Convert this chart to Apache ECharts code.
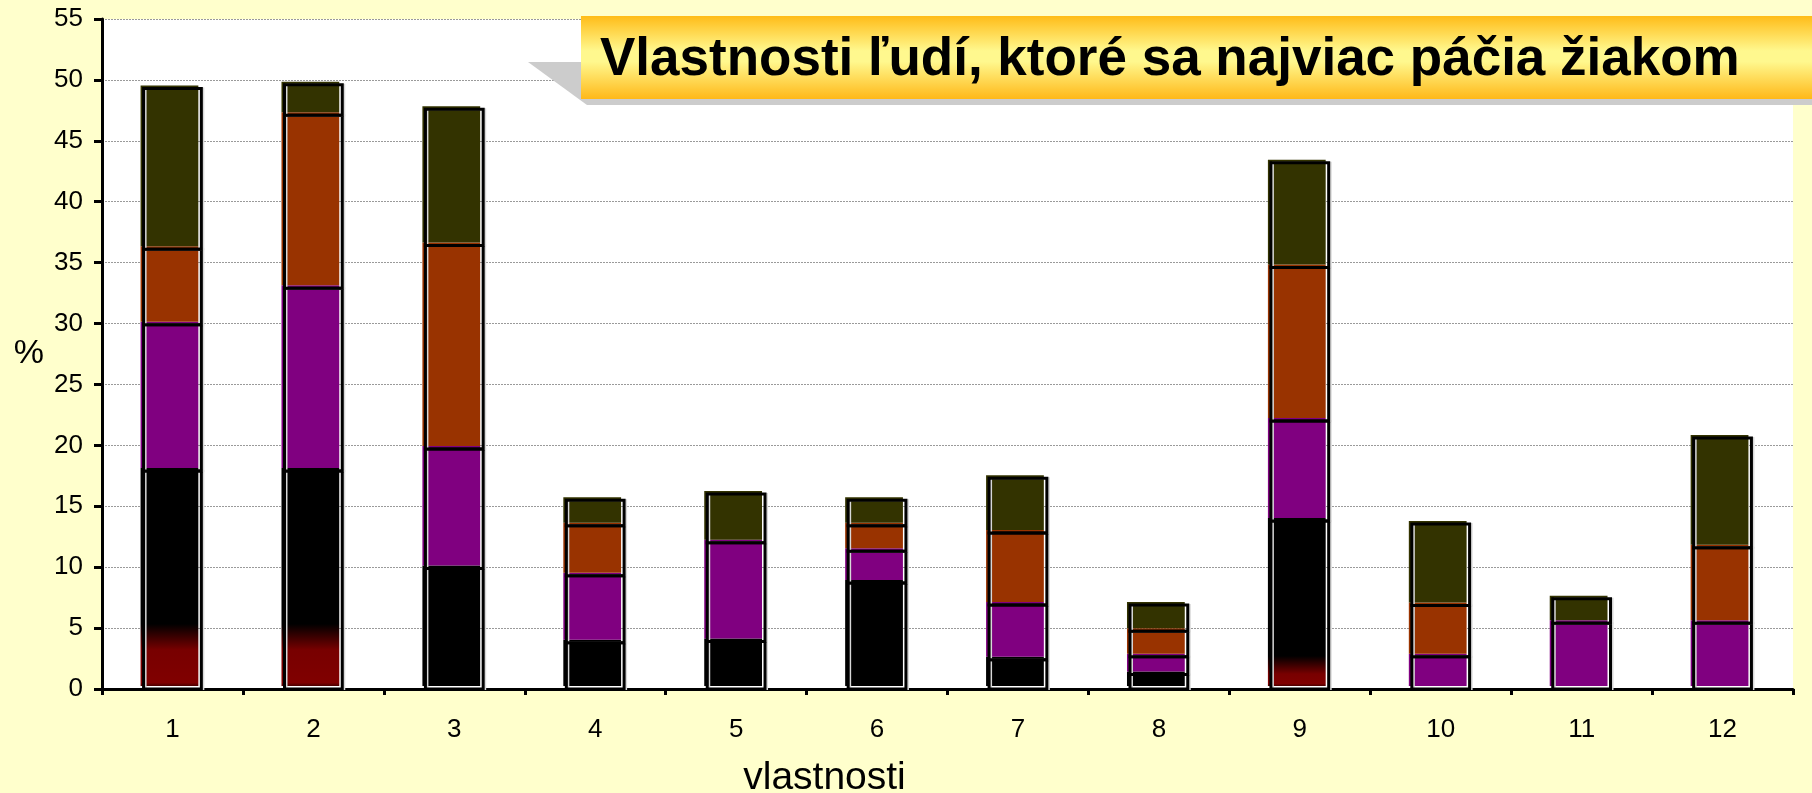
<!DOCTYPE html>
<html>
<head>
<meta charset="utf-8">
<title>Vlastnosti ľudí</title>
<script src="https://cdn.jsdelivr.net/npm/echarts@6/dist/echarts.min.js"></script>
<style>
  html, body { margin: 0; padding: 0; background: #FFFFCC; }
  #chart { width: 1812px; height: 793px; }
</style>
</head>
<body>
<div id="chart"></div>
<script>
// kategórie (vlastnosti 1 - 12)
const categories = ['1', '2', '3', '4', '5', '6', '7', '8', '9', '10', '11', '12'];

// hodnoty v % (zdola nahor)
const blackValues  = [17.9, 17.9, 9.9, 3.8, 3.9, 8.7, 2.4, 1.2, 13.8, 0, 0, 0];
const purpleValues = [12.0, 15.0, 9.8, 5.5, 8.1, 2.6, 4.5, 1.45, 8.2, 2.65, 5.4, 5.4];
const orangeValues = [6.2, 14.2, 16.7, 4.1, 0, 2.1, 5.9, 2.1, 12.6, 4.2, 0, 6.2];
const oliveValues  = [13.2, 2.5, 11.2, 2.1, 4.0, 2.1, 4.5, 2.15, 8.6, 6.7, 2.0, 9.0];

const yTicks = { min: 0, max: 55, step: 5 };

const segments = [
  { values: blackValues, color: '#000000' },
  { values: purpleValues, color: '#800080' },
  { values: orangeValues, color: '#993300' },
  { values: oliveValues, color: '#333300' }
];

// stĺpce s červeným prechodom pri spodku (px od spodku: [čierna končí, červená začína])
const fade = { 0: [62, 36], 1: [62, 36], 8: [30, 12] };

const FONT = "'Liberation Sans', Arial, sans-serif";

function fillFor(k, i, h) {
  const c = segments[k].color;
  if (k !== 0 || !fade[i] || h <= 0) return c;
  const [b, r] = fade[i];
  return new echarts.graphic.LinearGradient(0, 0, 0, 1, [
    { offset: 0, color: '#000000' },
    { offset: Math.max(0, 1 - b / h), color: '#000000' },
    { offset: Math.max(0, 1 - r / h), color: '#780000' },
    { offset: 0.985, color: '#800000' },
    { offset: 1, color: '#4a0000' }
  ]);
}

function renderItem(params, api) {
  const i = api.value(0);
  const w = api.size([1, 0])[0] * 0.41;
  const xc = api.coord([i, 0])[0];
  const fills = [];
  const outlines = [];
  let base = 0;
  segments.forEach((seg, k) => {
    const v = seg.values[i];
    if (!v) return;
    const top = api.coord([i, base + v])[1];
    const bottom = api.coord([i, base])[1];
    const h = bottom - top;
    fills.push({
      type: 'rect',
      shape: { x: xc - w / 2 - 3, y: top - 3, width: w, height: h },
      style: { fill: fillFor(k, i, h) }
    });
    outlines.push({
      type: 'rect',
      shape: { x: xc - w / 2 + 2, y: top, width: w, height: h },
      style: { fill: null, stroke: '#d8d8d8', lineWidth: 2 }
    });
    outlines.push({
      type: 'rect',
      shape: { x: xc - w / 2, y: top, width: w, height: h },
      style: { fill: null, stroke: '#000000', lineWidth: 3 }
    });
    base += v;
  });
  return { type: 'group', children: fills.concat(outlines) };
}

const chart = echarts.init(document.getElementById('chart'));

const option = {
  backgroundColor: '#FFFFCC',
  animation: false,
  grid: {
    left: 102, right: 19, top: 19, bottom: 104,
    containLabel: false,
    outerBoundsMode: 'none',
    show: true, backgroundColor: '#ffffff', borderWidth: 0
  },
  xAxis: {
    type: 'category',
    data: categories,
    name: 'vlastnosti',
    nameLocation: 'middle',
    nameGap: 70,
    nameTextStyle: { fontFamily: FONT, fontSize: 39, color: '#000', padding: [0, 246, 0, 0] },
    axisLine: { lineStyle: { color: '#000', width: 3 } },
    axisTick: { show: true, length: 6, lineStyle: { color: '#000', width: 3 } },
    axisLabel: { fontFamily: FONT, fontSize: 26, color: '#000', margin: 28 },
    splitLine: { show: false }
  },
  yAxis: {
    type: 'value',
    min: yTicks.min,
    max: yTicks.max,
    interval: yTicks.step,
    name: '%',
    nameLocation: 'middle',
    nameRotate: 0,
    nameGap: 58,
    nameTextStyle: { fontFamily: FONT, fontSize: 34, color: '#000' },
    axisLine: { show: true, lineStyle: { color: '#000', width: 3 } },
    axisTick: { show: true, length: 8, lineStyle: { color: '#000', width: 3 } },
    axisLabel: { fontFamily: FONT, fontSize: 26, color: '#000', margin: 19 },
    splitLine: { show: true, lineStyle: { color: '#9a9a9a', width: 1, type: [2, 1] } }
  },
  series: [{
    type: 'custom',
    renderItem: renderItem,
    data: categories.map((c, i) => [i]),
    encode: { x: 0 },
    z: 3
  }],
  graphic: [
    {
      type: 'polygon',
      z: 100,
      shape: { points: [[528, 62], [1812, 62], [1812, 105], [587, 105]] },
      style: { fill: '#cccccc' }
    },
    {
      type: 'rect',
      z: 101,
      shape: { x: 581, y: 16, width: 1240, height: 83 },
      style: {
        fill: new echarts.graphic.LinearGradient(0, 0, 0, 1, [
          { offset: 0, color: '#FFBC18' },
          { offset: 0.42, color: '#FFF88E' },
          { offset: 0.55, color: '#FFF88E' },
          { offset: 1, color: '#FFB818' }
        ])
      }
    },
    {
      type: 'text',
      z: 102,
      left: 600,
      top: 34,
      style: {
        text: 'Vlastnosti ľudí, ktoré sa najviac páčia žiakom',
        fontFamily: FONT,
        fontWeight: 'bold',
        fontSize: 53,
        fill: '#000'
      }
    }
  ]
};

chart.setOption(option);
</script>
</body>
</html>
